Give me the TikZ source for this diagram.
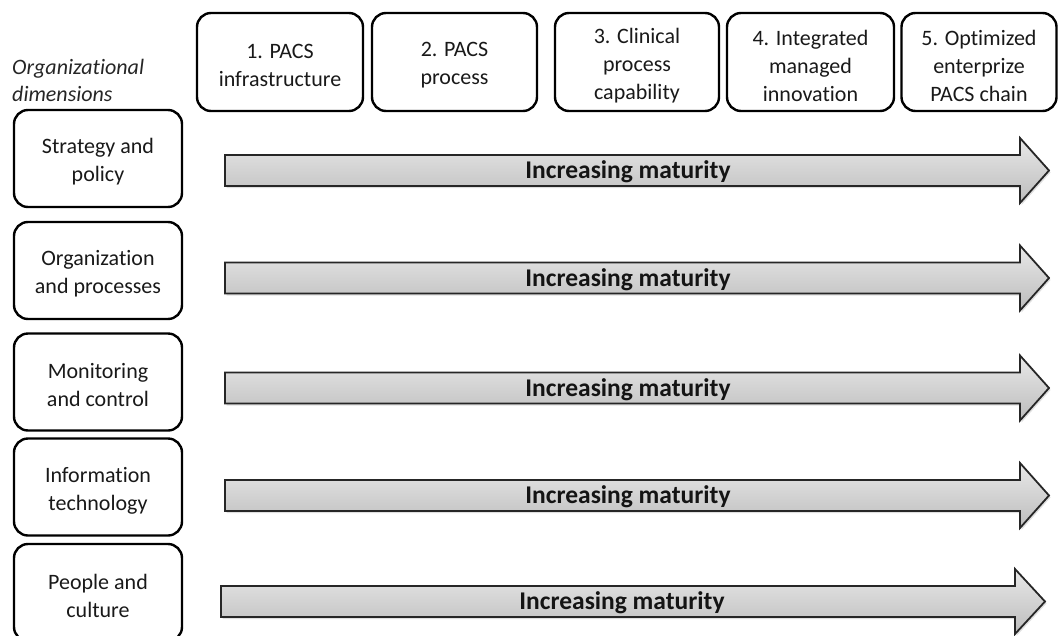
\documentclass[tikz,border=0pt]{standalone}
\usepackage{fontspec}
\setmainfont{Carlito}[Ligatures=NoCommon]
\usetikzlibrary{shadows}

\tikzset{
  roundbox/.style={draw=black, line width=2.4pt, rounded corners=14pt,
    inner sep=0pt},
  boxtext/.style={align=center, inner sep=0pt, text=black!90, yshift=-3.5pt,
    font=\fontsize{22}{28}\selectfont},
  stagebox/.style={roundbox, minimum height=98pt},
  dimbox/.style={roundbox, minimum width=168pt, minimum height=97pt},
  blockarrow/.style={draw=black!85, line width=1.8pt, line join=miter,
    top color=black!9, bottom color=black!26,
    drop shadow={opacity=0.25, shadow xshift=1.5pt, shadow yshift=-2pt}},
  arrowlabel/.style={font=\fontsize{25.5}{28}\selectfont\bfseries, text=black!92,
    inner sep=0pt, yshift=-1.5pt},
  axislabel/.style={font=\fontsize{22}{27}\selectfont\itshape, text=black!85,
    align=left, anchor=west, inner sep=0pt}
}

% block arrow: #1 left end, #2 head base, #3 tip, #4 centre line
\newcommand\maturityarrow[4]{%
  \path[blockarrow] (#1,#4-15.5) -- (#2,#4-15.5) -- (#2,#4-32.5) -- (#3,#4)
    -- (#2,#4+32.5) -- (#2,#4+15.5) -- (#1,#4+15.5) -- cycle;}

\begin{document}
\begin{tikzpicture}[x=1pt, y=-1pt]
  \useasboundingbox (0,0) rectangle (1058,635);

  % maturity stages across the top
  \node[stagebox, minimum width=166pt, label={[boxtext]center:1. PACS\\infrastructure}] (s1) at (280,62) {};
  \node[stagebox, minimum width=165pt, label={[boxtext]center:2. PACS\\process}] (s2) at (454.5,62) {};
  \node[stagebox, minimum width=164pt, label={[boxtext]center:3. Clinical\\process\\capability}] (s3) at (637,62) {};
  \node[stagebox, minimum width=167pt, label={[boxtext]center:4. Integrated\\managed\\innovation}] (s4) at (810.5,62) {};
  \node[stagebox, minimum width=155pt, label={[boxtext]center:5. Optimized\\enterprize\\PACS chain}] (s5) at (979,62) {};

  % organizational dimensions down the left
  \node[axislabel] (axis) at (12,80) {Organizational\\dimensions};
  \node[dimbox, label={[boxtext]center:Strategy and\\policy}] (d1) at (98,158.5) {};
  \node[dimbox, label={[boxtext]center:Organization\\and processes}] (d2) at (98,270.5) {};
  \node[dimbox, label={[boxtext]center:Monitoring\\and control}] (d3) at (98,382) {};
  \node[dimbox, label={[boxtext]center:Information\\technology}] (d4) at (98,487) {};
  \node[dimbox, label={[boxtext]center:People and\\culture}] (d5) at (98,592.5) {};

  % one maturity arrow per dimension
  \maturityarrow{225}{1020}{1049}{170.5}
  \maturityarrow{225}{1020}{1049}{278}
  \maturityarrow{225}{1020}{1049}{388}
  \maturityarrow{225}{1020}{1049}{495.5}
  \maturityarrow{221}{1015}{1045}{601.5}

  \node[arrowlabel] (m1) at (628,170.5) {Increasing maturity};
  \node[arrowlabel] (m2) at (628,278)   {Increasing maturity};
  \node[arrowlabel] (m3) at (628,388)   {Increasing maturity};
  \node[arrowlabel] (m4) at (628,495.5) {Increasing maturity};
  \node[arrowlabel] (m5) at (622,601.5) {Increasing maturity};
\end{tikzpicture}
\end{document}
